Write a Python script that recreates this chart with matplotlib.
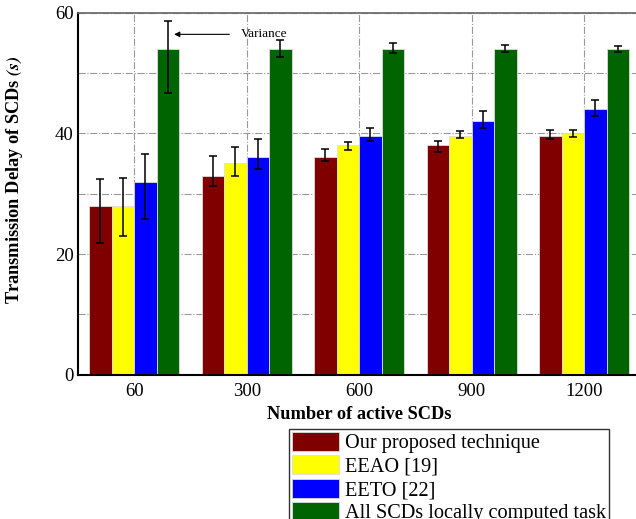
import numpy as np
import matplotlib
matplotlib.use('Agg')
import matplotlib.pyplot as plt
from matplotlib.ticker import MultipleLocator

plt.rcParams['font.family'] = ['Liberation Serif', 'DejaVu Serif']
plt.rcParams['mathtext.fontset'] = 'stix'

# data
scd_counts = ['60', '300', '600', '900', '1200']
series_names = ['Our proposed technique', 'EEAO [19]', 'EETO [22]', 'All SCDs locally computed task']
colors = ['#800000', '#FFFF00', '#0000FF', '#006400']

proposed = [28.0, 33.0, 36.0, 38.0, 39.6]
proposed_lo = [21.8, 31.3, 35.4, 36.9, 39.1]
proposed_hi = [32.5, 36.2, 37.4, 38.8, 40.6]

eeao = [28.0, 35.0, 38.0, 39.6, 40.0]
eeao_lo = [23.0, 32.9, 37.2, 39.2, 39.4]
eeao_hi = [32.6, 37.7, 38.6, 40.4, 40.6]

eeto = [32.0, 36.0, 39.6, 42.0, 44.0]
eeto_lo = [25.8, 34.1, 38.8, 40.8, 42.8]
eeto_hi = [36.5, 39.0, 40.8, 43.7, 45.6]

local = [54.0, 54.0, 54.0, 54.0, 54.0]
local_lo = [46.6, 52.6, 53.3, 53.5, 53.4]
local_hi = [58.6, 55.5, 54.9, 54.6, 54.4]

values = [proposed, eeao, eeto, local]
lows = [proposed_lo, eeao_lo, eeto_lo, local_lo]
highs = [proposed_hi, eeao_hi, eeto_hi, local_hi]

fig = plt.figure(figsize=(6.36, 5.19), dpi=100)
ax = fig.add_axes([0.1226, 0.278, 0.8844, 0.6977])

x = np.arange(len(scd_counts))
w = 0.2
handles = []
for i in range(4):
    v = np.array(values[i])
    err = [v - np.array(lows[i]), np.array(highs[i]) - v]
    pos = x + (i - 1.5) * w
    b = ax.bar(pos, v, w, color=colors[i], edgecolor='#dddddd', linewidth=0.6,
               label=series_names[i], zorder=2)
    ax.errorbar(pos, v, yerr=err, fmt='none', ecolor='black', elinewidth=1.1,
                capsize=3, capthick=1.1, zorder=3)
    handles.append(b)

ax.set_xlim(-0.5, 4.5)
ax.set_ylim(0, 60)
ax.set_xticks(x)
ax.set_xticklabels(scd_counts, fontsize=13.5)
ax.yaxis.set_major_locator(MultipleLocator(20))
ax.yaxis.set_minor_locator(MultipleLocator(10))
ax.tick_params(axis='y', labelsize=13.5, length=0, pad=3, which='both')
ax.tick_params(axis='x', length=0, pad=6)
ax.grid(True, which='both', axis='y', linestyle='-.', color='#999999', linewidth=0.8, zorder=0)
ax.grid(True, which='major', axis='x', linestyle='-.', color='#999999', linewidth=0.8, zorder=0)
ax.set_axisbelow(True)

for s in ['left', 'bottom']:
    ax.spines[s].set_linewidth(1.5)
    ax.spines[s].set_color('black')
ax.spines['top'].set_color('#666666')
ax.spines['top'].set_linewidth(1.2)
ax.spines['right'].set_visible(False)

ax.set_xlabel('Number of active SCDs', fontsize=13.2, fontweight='bold', labelpad=4)
ax.set_ylabel('Transmission Delay of SCDs $\\mathbfit{(s)}$', fontsize=13.2, fontweight='bold')
ax.yaxis.set_label_coords(-0.095, 0.54)

# variance annotation
ax.annotate('', xy=(0.33, 56.4), xytext=(0.87, 56.4),
            arrowprops=dict(arrowstyle='-|>', color='black', lw=0.8, mutation_scale=8))
ax.text(0.95, 56.4, 'Variance', fontsize=9.5, va='center', ha='left')

leg = fig.legend(handles=handles, loc='upper left', bbox_to_anchor=(289 / 636, 1 - 429 / 519),
                 fontsize=14.6, frameon=True, fancybox=False, edgecolor='black',
                 handlelength=2.3, handleheight=1.05, labelspacing=0.1, handletextpad=0.3,
                 borderpad=0.15, borderaxespad=0)
leg.get_frame().set_linewidth(1.0)

fig.savefig('out.png', dpi=100)
